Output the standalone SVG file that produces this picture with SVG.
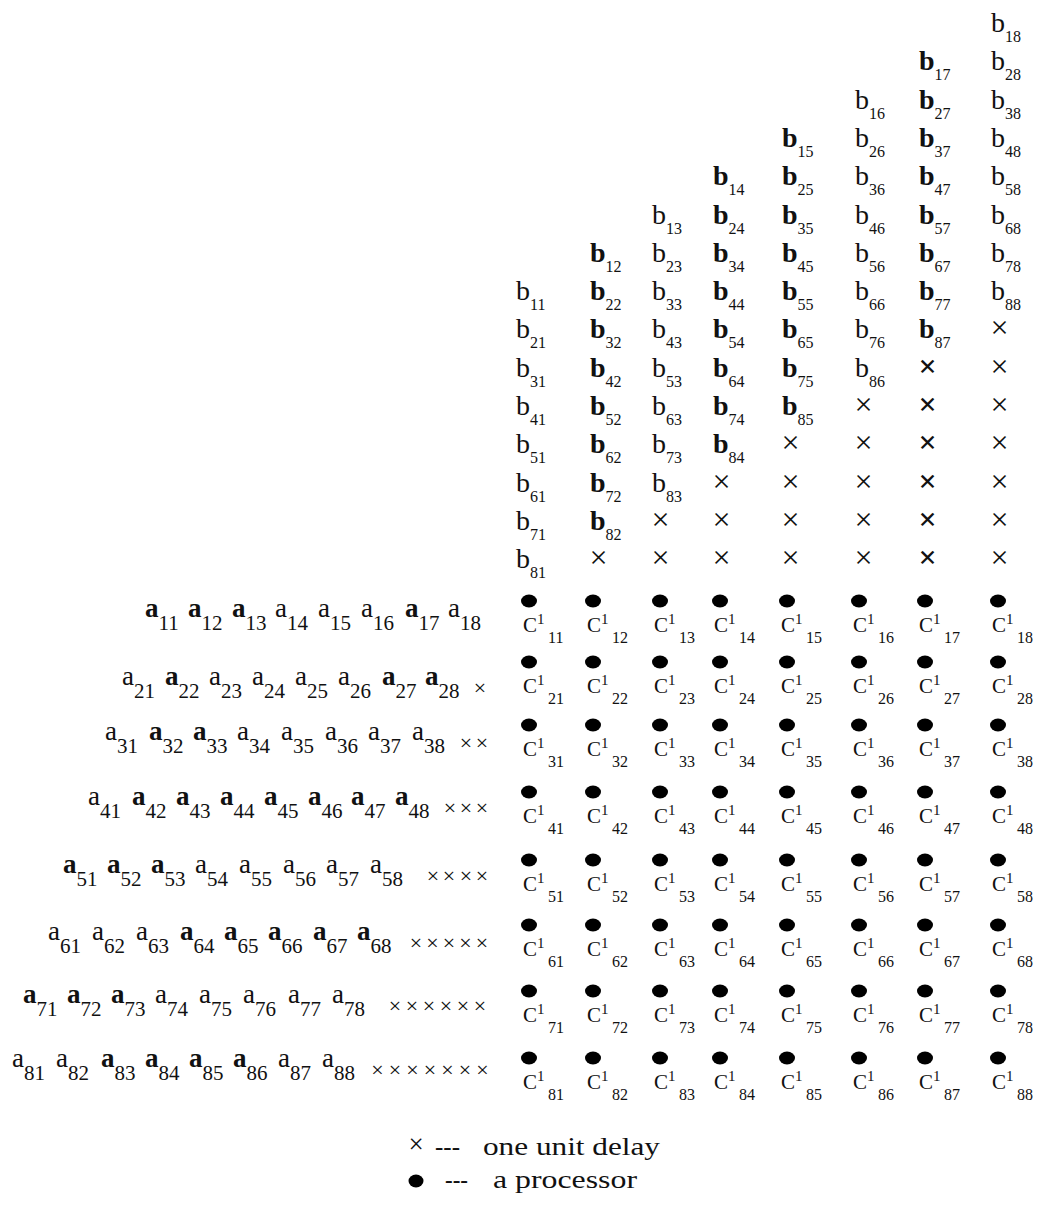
<svg xmlns="http://www.w3.org/2000/svg" width="1040" height="1212" viewBox="0 0 1040 1212">
<style>
text{font-family:"Liberation Serif","Times New Roman",serif;fill:#111}
.b{font-size:28px}
.bs{font-size:16px;font-weight:normal}
.bx{font-size:32px;text-anchor:middle}
.bold{font-weight:bold}
.a{font-size:27px}
.as{font-size:21px;font-weight:normal}
.ax{font-size:22px;text-anchor:middle}
.c{font-size:21px}
.cs{font-size:15px}
.ci{font-size:16px}
.dot{fill:#000}
.lg{font-size:25px}
</style>
<rect width="1040" height="1212" fill="#fff"/>
<g id="connectors"/>
<g id="b-inputs">
<g id="b-col1">
<text class="b" x="516" y="300">b<tspan class="bs" dy="10">11</tspan></text>
<text class="b" x="516" y="338">b<tspan class="bs" dy="10">21</tspan></text>
<text class="b" x="516" y="377">b<tspan class="bs" dy="10">31</tspan></text>
<text class="b" x="516" y="415">b<tspan class="bs" dy="10">41</tspan></text>
<text class="b" x="516" y="453">b<tspan class="bs" dy="10">51</tspan></text>
<text class="b" x="516" y="492">b<tspan class="bs" dy="10">61</tspan></text>
<text class="b" x="516" y="530">b<tspan class="bs" dy="10">71</tspan></text>
<text class="b" x="516" y="568">b<tspan class="bs" dy="10">81</tspan></text>
</g>
<g id="b-col2">
<text class="b bold" x="590" y="262">b<tspan class="bs" dy="10">12</tspan></text>
<text class="b bold" x="590" y="300">b<tspan class="bs" dy="10">22</tspan></text>
<text class="b bold" x="590" y="338">b<tspan class="bs" dy="10">32</tspan></text>
<text class="b bold" x="590" y="377">b<tspan class="bs" dy="10">42</tspan></text>
<text class="b bold" x="590" y="415">b<tspan class="bs" dy="10">52</tspan></text>
<text class="b bold" x="590" y="453">b<tspan class="bs" dy="10">62</tspan></text>
<text class="b bold" x="590" y="492">b<tspan class="bs" dy="10">72</tspan></text>
<text class="b bold" x="590" y="530">b<tspan class="bs" dy="10">82</tspan></text>
<text class="bx" x="598.5" y="568">×</text>
</g>
<g id="b-col3">
<text class="b" x="652" y="224">b<tspan class="bs" dy="10">13</tspan></text>
<text class="b" x="652" y="262">b<tspan class="bs" dy="10">23</tspan></text>
<text class="b" x="652" y="300">b<tspan class="bs" dy="10">33</tspan></text>
<text class="b" x="652" y="338">b<tspan class="bs" dy="10">43</tspan></text>
<text class="b" x="652" y="377">b<tspan class="bs" dy="10">53</tspan></text>
<text class="b" x="652" y="415">b<tspan class="bs" dy="10">63</tspan></text>
<text class="b" x="652" y="453">b<tspan class="bs" dy="10">73</tspan></text>
<text class="b" x="652" y="492">b<tspan class="bs" dy="10">83</tspan></text>
<text class="bx" x="660.5 660.5" y="530 568">××</text>
</g>
<g id="b-col4">
<text class="b bold" x="713" y="185">b<tspan class="bs" dy="10">14</tspan></text>
<text class="b bold" x="713" y="224">b<tspan class="bs" dy="10">24</tspan></text>
<text class="b bold" x="713" y="262">b<tspan class="bs" dy="10">34</tspan></text>
<text class="b bold" x="713" y="300">b<tspan class="bs" dy="10">44</tspan></text>
<text class="b bold" x="713" y="338">b<tspan class="bs" dy="10">54</tspan></text>
<text class="b bold" x="713" y="377">b<tspan class="bs" dy="10">64</tspan></text>
<text class="b bold" x="713" y="415">b<tspan class="bs" dy="10">74</tspan></text>
<text class="b bold" x="713" y="453">b<tspan class="bs" dy="10">84</tspan></text>
<text class="bx" x="721.5 721.5 721.5" y="492 530 568">×××</text>
</g>
<g id="b-col5">
<text class="b bold" x="782" y="147">b<tspan class="bs" dy="10">15</tspan></text>
<text class="b bold" x="782" y="185">b<tspan class="bs" dy="10">25</tspan></text>
<text class="b bold" x="782" y="224">b<tspan class="bs" dy="10">35</tspan></text>
<text class="b bold" x="782" y="262">b<tspan class="bs" dy="10">45</tspan></text>
<text class="b bold" x="782" y="300">b<tspan class="bs" dy="10">55</tspan></text>
<text class="b bold" x="782" y="338">b<tspan class="bs" dy="10">65</tspan></text>
<text class="b bold" x="782" y="377">b<tspan class="bs" dy="10">75</tspan></text>
<text class="b bold" x="782" y="415">b<tspan class="bs" dy="10">85</tspan></text>
<text class="bx" x="790.5 790.5 790.5 790.5" y="453 492 530 568">××××</text>
</g>
<g id="b-col6">
<text class="b" x="855" y="109">b<tspan class="bs" dy="10">16</tspan></text>
<text class="b" x="855" y="147">b<tspan class="bs" dy="10">26</tspan></text>
<text class="b" x="855" y="185">b<tspan class="bs" dy="10">36</tspan></text>
<text class="b" x="855" y="224">b<tspan class="bs" dy="10">46</tspan></text>
<text class="b" x="855" y="262">b<tspan class="bs" dy="10">56</tspan></text>
<text class="b" x="855" y="300">b<tspan class="bs" dy="10">66</tspan></text>
<text class="b" x="855" y="338">b<tspan class="bs" dy="10">76</tspan></text>
<text class="b" x="855" y="377">b<tspan class="bs" dy="10">86</tspan></text>
<text class="bx" x="863.5 863.5 863.5 863.5 863.5" y="415 453 492 530 568">×××××</text>
</g>
<g id="b-col7">
<text class="b bold" x="919" y="70">b<tspan class="bs" dy="10">17</tspan></text>
<text class="b bold" x="919" y="109">b<tspan class="bs" dy="10">27</tspan></text>
<text class="b bold" x="919" y="147">b<tspan class="bs" dy="10">37</tspan></text>
<text class="b bold" x="919" y="185">b<tspan class="bs" dy="10">47</tspan></text>
<text class="b bold" x="919" y="224">b<tspan class="bs" dy="10">57</tspan></text>
<text class="b bold" x="919" y="262">b<tspan class="bs" dy="10">67</tspan></text>
<text class="b bold" x="919" y="300">b<tspan class="bs" dy="10">77</tspan></text>
<text class="b bold" x="919" y="338">b<tspan class="bs" dy="10">87</tspan></text>
<text class="bx bold" x="927.5 927.5 927.5 927.5 927.5 927.5" y="377 415 453 492 530 568">××××××</text>
</g>
<g id="b-col8">
<text class="b" x="991" y="32">b<tspan class="bs" dy="10">18</tspan></text>
<text class="b" x="991" y="70">b<tspan class="bs" dy="10">28</tspan></text>
<text class="b" x="991" y="109">b<tspan class="bs" dy="10">38</tspan></text>
<text class="b" x="991" y="147">b<tspan class="bs" dy="10">48</tspan></text>
<text class="b" x="991" y="185">b<tspan class="bs" dy="10">58</tspan></text>
<text class="b" x="991" y="224">b<tspan class="bs" dy="10">68</tspan></text>
<text class="b" x="991" y="262">b<tspan class="bs" dy="10">78</tspan></text>
<text class="b" x="991" y="300">b<tspan class="bs" dy="10">88</tspan></text>
<text class="bx" x="999.5 999.5 999.5 999.5 999.5 999.5 999.5" y="338 377 415 453 492 530 568">×××××××</text>
</g>
</g>
<g id="a-inputs">
<g id="a-row1">
<text class="a bold" x="145" y="617">a<tspan class="as" dy="13">11</tspan></text>
<text class="a bold" x="188" y="617">a<tspan class="as" dy="13">12</tspan></text>
<text class="a bold" x="232" y="617">a<tspan class="as" dy="13">13</tspan></text>
<text class="a" x="275" y="617">a<tspan class="as" dy="13">14</tspan></text>
<text class="a" x="318" y="617">a<tspan class="as" dy="13">15</tspan></text>
<text class="a" x="361" y="617">a<tspan class="as" dy="13">16</tspan></text>
<text class="a bold" x="405" y="617">a<tspan class="as" dy="13">17</tspan></text>
<text class="a" x="448" y="617">a<tspan class="as" dy="13">18</tspan></text>
</g>
<g id="a-row2">
<text class="a" x="122" y="685">a<tspan class="as" dy="13">21</tspan></text>
<text class="a bold" x="165" y="685">a<tspan class="as" dy="13">22</tspan></text>
<text class="a" x="209" y="685">a<tspan class="as" dy="13">23</tspan></text>
<text class="a" x="252" y="685">a<tspan class="as" dy="13">24</tspan></text>
<text class="a" x="295" y="685">a<tspan class="as" dy="13">25</tspan></text>
<text class="a" x="338" y="685">a<tspan class="as" dy="13">26</tspan></text>
<text class="a bold" x="382" y="685">a<tspan class="as" dy="13">27</tspan></text>
<text class="a bold" x="425" y="685">a<tspan class="as" dy="13">28</tspan></text>
<text class="ax" x="480" y="695">×</text>
</g>
<g id="a-row3">
<text class="a" x="105" y="740">a<tspan class="as" dy="13">31</tspan></text>
<text class="a bold" x="149" y="740">a<tspan class="as" dy="13">32</tspan></text>
<text class="a bold" x="193" y="740">a<tspan class="as" dy="13">33</tspan></text>
<text class="a" x="237" y="740">a<tspan class="as" dy="13">34</tspan></text>
<text class="a" x="281" y="740">a<tspan class="as" dy="13">35</tspan></text>
<text class="a" x="325" y="740">a<tspan class="as" dy="13">36</tspan></text>
<text class="a" x="368" y="740">a<tspan class="as" dy="13">37</tspan></text>
<text class="a" x="412" y="740">a<tspan class="as" dy="13">38</tspan></text>
<text class="ax" x="466 482" y="750">××</text>
</g>
<g id="a-row4">
<text class="a" x="88" y="805">a<tspan class="as" dy="13">41</tspan></text>
<text class="a bold" x="132" y="805">a<tspan class="as" dy="13">42</tspan></text>
<text class="a bold" x="176" y="805">a<tspan class="as" dy="13">43</tspan></text>
<text class="a bold" x="220" y="805">a<tspan class="as" dy="13">44</tspan></text>
<text class="a bold" x="264" y="805">a<tspan class="as" dy="13">45</tspan></text>
<text class="a bold" x="308" y="805">a<tspan class="as" dy="13">46</tspan></text>
<text class="a bold" x="351" y="805">a<tspan class="as" dy="13">47</tspan></text>
<text class="a bold" x="395" y="805">a<tspan class="as" dy="13">48</tspan></text>
<text class="ax" x="450 466 482" y="815">×××</text>
</g>
<g id="a-row5">
<text class="a bold" x="63" y="873">a<tspan class="as" dy="13">51</tspan></text>
<text class="a bold" x="107" y="873">a<tspan class="as" dy="13">52</tspan></text>
<text class="a bold" x="151" y="873">a<tspan class="as" dy="13">53</tspan></text>
<text class="a" x="195" y="873">a<tspan class="as" dy="13">54</tspan></text>
<text class="a" x="239" y="873">a<tspan class="as" dy="13">55</tspan></text>
<text class="a" x="283" y="873">a<tspan class="as" dy="13">56</tspan></text>
<text class="a" x="326" y="873">a<tspan class="as" dy="13">57</tspan></text>
<text class="a" x="370" y="873">a<tspan class="as" dy="13">58</tspan></text>
<text class="ax" x="433 449 466 482" y="883">××××</text>
</g>
<g id="a-row6">
<text class="a" x="48" y="940">a<tspan class="as" dy="13">61</tspan></text>
<text class="a" x="92" y="940">a<tspan class="as" dy="13">62</tspan></text>
<text class="a" x="136" y="940">a<tspan class="as" dy="13">63</tspan></text>
<text class="a bold" x="180" y="940">a<tspan class="as" dy="13">64</tspan></text>
<text class="a bold" x="224" y="940">a<tspan class="as" dy="13">65</tspan></text>
<text class="a bold" x="268" y="940">a<tspan class="as" dy="13">66</tspan></text>
<text class="a bold" x="313" y="940">a<tspan class="as" dy="13">67</tspan></text>
<text class="a bold" x="357" y="940">a<tspan class="as" dy="13">68</tspan></text>
<text class="ax" x="416 432.5 449 465.5 482" y="950">×××××</text>
</g>
<g id="a-row7">
<text class="a bold" x="23" y="1003">a<tspan class="as" dy="13">71</tspan></text>
<text class="a bold" x="67" y="1003">a<tspan class="as" dy="13">72</tspan></text>
<text class="a bold" x="111" y="1003">a<tspan class="as" dy="13">73</tspan></text>
<text class="a" x="155" y="1003">a<tspan class="as" dy="13">74</tspan></text>
<text class="a" x="199" y="1003">a<tspan class="as" dy="13">75</tspan></text>
<text class="a" x="243" y="1003">a<tspan class="as" dy="13">76</tspan></text>
<text class="a" x="288" y="1003">a<tspan class="as" dy="13">77</tspan></text>
<text class="a" x="332" y="1003">a<tspan class="as" dy="13">78</tspan></text>
<text class="ax" x="395 412 429 446 463 480" y="1013">××××××</text>
</g>
<g id="a-row8">
<text class="a" x="12" y="1067">a<tspan class="as" dy="13">81</tspan></text>
<text class="a" x="56" y="1067">a<tspan class="as" dy="13">82</tspan></text>
<text class="a bold" x="101" y="1067">a<tspan class="as" dy="13">83</tspan></text>
<text class="a bold" x="145" y="1067">a<tspan class="as" dy="13">84</tspan></text>
<text class="a bold" x="189" y="1067">a<tspan class="as" dy="13">85</tspan></text>
<text class="a bold" x="233" y="1067">a<tspan class="as" dy="13">86</tspan></text>
<text class="a" x="278" y="1067">a<tspan class="as" dy="13">87</tspan></text>
<text class="a" x="322" y="1067">a<tspan class="as" dy="13">88</tspan></text>
<text class="ax" x="377.5 395 412.5 430 447.5 465 482.5" y="1077">×××××××</text>
</g>
</g>
<g id="processors">
<g id="p11"><ellipse class="dot" cx="529" cy="601" rx="8" ry="6.5"/><text class="c" x="523" y="632">C<tspan class="cs" dy="-8">1</tspan><tspan class="ci" x="548" dy="19">11</tspan></text></g>
<g id="p12"><ellipse class="dot" cx="593" cy="601" rx="8" ry="6.5"/><text class="c" x="587" y="632">C<tspan class="cs" dy="-8">1</tspan><tspan class="ci" x="612" dy="19">12</tspan></text></g>
<g id="p13"><ellipse class="dot" cx="660" cy="601" rx="8" ry="6.5"/><text class="c" x="654" y="632">C<tspan class="cs" dy="-8">1</tspan><tspan class="ci" x="679" dy="19">13</tspan></text></g>
<g id="p14"><ellipse class="dot" cx="720" cy="601" rx="8" ry="6.5"/><text class="c" x="714" y="632">C<tspan class="cs" dy="-8">1</tspan><tspan class="ci" x="739" dy="19">14</tspan></text></g>
<g id="p15"><ellipse class="dot" cx="787" cy="601" rx="8" ry="6.5"/><text class="c" x="781" y="632">C<tspan class="cs" dy="-8">1</tspan><tspan class="ci" x="806" dy="19">15</tspan></text></g>
<g id="p16"><ellipse class="dot" cx="859" cy="601" rx="8" ry="6.5"/><text class="c" x="853" y="632">C<tspan class="cs" dy="-8">1</tspan><tspan class="ci" x="878" dy="19">16</tspan></text></g>
<g id="p17"><ellipse class="dot" cx="925" cy="601" rx="8" ry="6.5"/><text class="c" x="919" y="632">C<tspan class="cs" dy="-8">1</tspan><tspan class="ci" x="944" dy="19">17</tspan></text></g>
<g id="p18"><ellipse class="dot" cx="998" cy="601" rx="8" ry="6.5"/><text class="c" x="992" y="632">C<tspan class="cs" dy="-8">1</tspan><tspan class="ci" x="1017" dy="19">18</tspan></text></g>
<g id="p21"><ellipse class="dot" cx="529" cy="662" rx="8" ry="6.5"/><text class="c" x="523" y="693">C<tspan class="cs" dy="-8">1</tspan><tspan class="ci" x="548" dy="19">21</tspan></text></g>
<g id="p22"><ellipse class="dot" cx="593" cy="662" rx="8" ry="6.5"/><text class="c" x="587" y="693">C<tspan class="cs" dy="-8">1</tspan><tspan class="ci" x="612" dy="19">22</tspan></text></g>
<g id="p23"><ellipse class="dot" cx="660" cy="662" rx="8" ry="6.5"/><text class="c" x="654" y="693">C<tspan class="cs" dy="-8">1</tspan><tspan class="ci" x="679" dy="19">23</tspan></text></g>
<g id="p24"><ellipse class="dot" cx="720" cy="662" rx="8" ry="6.5"/><text class="c" x="714" y="693">C<tspan class="cs" dy="-8">1</tspan><tspan class="ci" x="739" dy="19">24</tspan></text></g>
<g id="p25"><ellipse class="dot" cx="787" cy="662" rx="8" ry="6.5"/><text class="c" x="781" y="693">C<tspan class="cs" dy="-8">1</tspan><tspan class="ci" x="806" dy="19">25</tspan></text></g>
<g id="p26"><ellipse class="dot" cx="859" cy="662" rx="8" ry="6.5"/><text class="c" x="853" y="693">C<tspan class="cs" dy="-8">1</tspan><tspan class="ci" x="878" dy="19">26</tspan></text></g>
<g id="p27"><ellipse class="dot" cx="925" cy="662" rx="8" ry="6.5"/><text class="c" x="919" y="693">C<tspan class="cs" dy="-8">1</tspan><tspan class="ci" x="944" dy="19">27</tspan></text></g>
<g id="p28"><ellipse class="dot" cx="998" cy="662" rx="8" ry="6.5"/><text class="c" x="992" y="693">C<tspan class="cs" dy="-8">1</tspan><tspan class="ci" x="1017" dy="19">28</tspan></text></g>
<g id="p31"><ellipse class="dot" cx="529" cy="725" rx="8" ry="6.5"/><text class="c" x="523" y="756">C<tspan class="cs" dy="-8">1</tspan><tspan class="ci" x="548" dy="19">31</tspan></text></g>
<g id="p32"><ellipse class="dot" cx="593" cy="725" rx="8" ry="6.5"/><text class="c" x="587" y="756">C<tspan class="cs" dy="-8">1</tspan><tspan class="ci" x="612" dy="19">32</tspan></text></g>
<g id="p33"><ellipse class="dot" cx="660" cy="725" rx="8" ry="6.5"/><text class="c" x="654" y="756">C<tspan class="cs" dy="-8">1</tspan><tspan class="ci" x="679" dy="19">33</tspan></text></g>
<g id="p34"><ellipse class="dot" cx="720" cy="725" rx="8" ry="6.5"/><text class="c" x="714" y="756">C<tspan class="cs" dy="-8">1</tspan><tspan class="ci" x="739" dy="19">34</tspan></text></g>
<g id="p35"><ellipse class="dot" cx="787" cy="725" rx="8" ry="6.5"/><text class="c" x="781" y="756">C<tspan class="cs" dy="-8">1</tspan><tspan class="ci" x="806" dy="19">35</tspan></text></g>
<g id="p36"><ellipse class="dot" cx="859" cy="725" rx="8" ry="6.5"/><text class="c" x="853" y="756">C<tspan class="cs" dy="-8">1</tspan><tspan class="ci" x="878" dy="19">36</tspan></text></g>
<g id="p37"><ellipse class="dot" cx="925" cy="725" rx="8" ry="6.5"/><text class="c" x="919" y="756">C<tspan class="cs" dy="-8">1</tspan><tspan class="ci" x="944" dy="19">37</tspan></text></g>
<g id="p38"><ellipse class="dot" cx="998" cy="725" rx="8" ry="6.5"/><text class="c" x="992" y="756">C<tspan class="cs" dy="-8">1</tspan><tspan class="ci" x="1017" dy="19">38</tspan></text></g>
<g id="p41"><ellipse class="dot" cx="529" cy="792" rx="8" ry="6.5"/><text class="c" x="523" y="823">C<tspan class="cs" dy="-8">1</tspan><tspan class="ci" x="548" dy="19">41</tspan></text></g>
<g id="p42"><ellipse class="dot" cx="593" cy="792" rx="8" ry="6.5"/><text class="c" x="587" y="823">C<tspan class="cs" dy="-8">1</tspan><tspan class="ci" x="612" dy="19">42</tspan></text></g>
<g id="p43"><ellipse class="dot" cx="660" cy="792" rx="8" ry="6.5"/><text class="c" x="654" y="823">C<tspan class="cs" dy="-8">1</tspan><tspan class="ci" x="679" dy="19">43</tspan></text></g>
<g id="p44"><ellipse class="dot" cx="720" cy="792" rx="8" ry="6.5"/><text class="c" x="714" y="823">C<tspan class="cs" dy="-8">1</tspan><tspan class="ci" x="739" dy="19">44</tspan></text></g>
<g id="p45"><ellipse class="dot" cx="787" cy="792" rx="8" ry="6.5"/><text class="c" x="781" y="823">C<tspan class="cs" dy="-8">1</tspan><tspan class="ci" x="806" dy="19">45</tspan></text></g>
<g id="p46"><ellipse class="dot" cx="859" cy="792" rx="8" ry="6.5"/><text class="c" x="853" y="823">C<tspan class="cs" dy="-8">1</tspan><tspan class="ci" x="878" dy="19">46</tspan></text></g>
<g id="p47"><ellipse class="dot" cx="925" cy="792" rx="8" ry="6.5"/><text class="c" x="919" y="823">C<tspan class="cs" dy="-8">1</tspan><tspan class="ci" x="944" dy="19">47</tspan></text></g>
<g id="p48"><ellipse class="dot" cx="998" cy="792" rx="8" ry="6.5"/><text class="c" x="992" y="823">C<tspan class="cs" dy="-8">1</tspan><tspan class="ci" x="1017" dy="19">48</tspan></text></g>
<g id="p51"><ellipse class="dot" cx="529" cy="860" rx="8" ry="6.5"/><text class="c" x="523" y="891">C<tspan class="cs" dy="-8">1</tspan><tspan class="ci" x="548" dy="19">51</tspan></text></g>
<g id="p52"><ellipse class="dot" cx="593" cy="860" rx="8" ry="6.5"/><text class="c" x="587" y="891">C<tspan class="cs" dy="-8">1</tspan><tspan class="ci" x="612" dy="19">52</tspan></text></g>
<g id="p53"><ellipse class="dot" cx="660" cy="860" rx="8" ry="6.5"/><text class="c" x="654" y="891">C<tspan class="cs" dy="-8">1</tspan><tspan class="ci" x="679" dy="19">53</tspan></text></g>
<g id="p54"><ellipse class="dot" cx="720" cy="860" rx="8" ry="6.5"/><text class="c" x="714" y="891">C<tspan class="cs" dy="-8">1</tspan><tspan class="ci" x="739" dy="19">54</tspan></text></g>
<g id="p55"><ellipse class="dot" cx="787" cy="860" rx="8" ry="6.5"/><text class="c" x="781" y="891">C<tspan class="cs" dy="-8">1</tspan><tspan class="ci" x="806" dy="19">55</tspan></text></g>
<g id="p56"><ellipse class="dot" cx="859" cy="860" rx="8" ry="6.5"/><text class="c" x="853" y="891">C<tspan class="cs" dy="-8">1</tspan><tspan class="ci" x="878" dy="19">56</tspan></text></g>
<g id="p57"><ellipse class="dot" cx="925" cy="860" rx="8" ry="6.5"/><text class="c" x="919" y="891">C<tspan class="cs" dy="-8">1</tspan><tspan class="ci" x="944" dy="19">57</tspan></text></g>
<g id="p58"><ellipse class="dot" cx="998" cy="860" rx="8" ry="6.5"/><text class="c" x="992" y="891">C<tspan class="cs" dy="-8">1</tspan><tspan class="ci" x="1017" dy="19">58</tspan></text></g>
<g id="p61"><ellipse class="dot" cx="529" cy="925" rx="8" ry="6.5"/><text class="c" x="523" y="956">C<tspan class="cs" dy="-8">1</tspan><tspan class="ci" x="548" dy="19">61</tspan></text></g>
<g id="p62"><ellipse class="dot" cx="593" cy="925" rx="8" ry="6.5"/><text class="c" x="587" y="956">C<tspan class="cs" dy="-8">1</tspan><tspan class="ci" x="612" dy="19">62</tspan></text></g>
<g id="p63"><ellipse class="dot" cx="660" cy="925" rx="8" ry="6.5"/><text class="c" x="654" y="956">C<tspan class="cs" dy="-8">1</tspan><tspan class="ci" x="679" dy="19">63</tspan></text></g>
<g id="p64"><ellipse class="dot" cx="720" cy="925" rx="8" ry="6.5"/><text class="c" x="714" y="956">C<tspan class="cs" dy="-8">1</tspan><tspan class="ci" x="739" dy="19">64</tspan></text></g>
<g id="p65"><ellipse class="dot" cx="787" cy="925" rx="8" ry="6.5"/><text class="c" x="781" y="956">C<tspan class="cs" dy="-8">1</tspan><tspan class="ci" x="806" dy="19">65</tspan></text></g>
<g id="p66"><ellipse class="dot" cx="859" cy="925" rx="8" ry="6.5"/><text class="c" x="853" y="956">C<tspan class="cs" dy="-8">1</tspan><tspan class="ci" x="878" dy="19">66</tspan></text></g>
<g id="p67"><ellipse class="dot" cx="925" cy="925" rx="8" ry="6.5"/><text class="c" x="919" y="956">C<tspan class="cs" dy="-8">1</tspan><tspan class="ci" x="944" dy="19">67</tspan></text></g>
<g id="p68"><ellipse class="dot" cx="998" cy="925" rx="8" ry="6.5"/><text class="c" x="992" y="956">C<tspan class="cs" dy="-8">1</tspan><tspan class="ci" x="1017" dy="19">68</tspan></text></g>
<g id="p71"><ellipse class="dot" cx="529" cy="991" rx="8" ry="6.5"/><text class="c" x="523" y="1022">C<tspan class="cs" dy="-8">1</tspan><tspan class="ci" x="548" dy="19">71</tspan></text></g>
<g id="p72"><ellipse class="dot" cx="593" cy="991" rx="8" ry="6.5"/><text class="c" x="587" y="1022">C<tspan class="cs" dy="-8">1</tspan><tspan class="ci" x="612" dy="19">72</tspan></text></g>
<g id="p73"><ellipse class="dot" cx="660" cy="991" rx="8" ry="6.5"/><text class="c" x="654" y="1022">C<tspan class="cs" dy="-8">1</tspan><tspan class="ci" x="679" dy="19">73</tspan></text></g>
<g id="p74"><ellipse class="dot" cx="720" cy="991" rx="8" ry="6.5"/><text class="c" x="714" y="1022">C<tspan class="cs" dy="-8">1</tspan><tspan class="ci" x="739" dy="19">74</tspan></text></g>
<g id="p75"><ellipse class="dot" cx="787" cy="991" rx="8" ry="6.5"/><text class="c" x="781" y="1022">C<tspan class="cs" dy="-8">1</tspan><tspan class="ci" x="806" dy="19">75</tspan></text></g>
<g id="p76"><ellipse class="dot" cx="859" cy="991" rx="8" ry="6.5"/><text class="c" x="853" y="1022">C<tspan class="cs" dy="-8">1</tspan><tspan class="ci" x="878" dy="19">76</tspan></text></g>
<g id="p77"><ellipse class="dot" cx="925" cy="991" rx="8" ry="6.5"/><text class="c" x="919" y="1022">C<tspan class="cs" dy="-8">1</tspan><tspan class="ci" x="944" dy="19">77</tspan></text></g>
<g id="p78"><ellipse class="dot" cx="998" cy="991" rx="8" ry="6.5"/><text class="c" x="992" y="1022">C<tspan class="cs" dy="-8">1</tspan><tspan class="ci" x="1017" dy="19">78</tspan></text></g>
<g id="p81"><ellipse class="dot" cx="529" cy="1058" rx="8" ry="6.5"/><text class="c" x="523" y="1089">C<tspan class="cs" dy="-8">1</tspan><tspan class="ci" x="548" dy="19">81</tspan></text></g>
<g id="p82"><ellipse class="dot" cx="593" cy="1058" rx="8" ry="6.5"/><text class="c" x="587" y="1089">C<tspan class="cs" dy="-8">1</tspan><tspan class="ci" x="612" dy="19">82</tspan></text></g>
<g id="p83"><ellipse class="dot" cx="660" cy="1058" rx="8" ry="6.5"/><text class="c" x="654" y="1089">C<tspan class="cs" dy="-8">1</tspan><tspan class="ci" x="679" dy="19">83</tspan></text></g>
<g id="p84"><ellipse class="dot" cx="720" cy="1058" rx="8" ry="6.5"/><text class="c" x="714" y="1089">C<tspan class="cs" dy="-8">1</tspan><tspan class="ci" x="739" dy="19">84</tspan></text></g>
<g id="p85"><ellipse class="dot" cx="787" cy="1058" rx="8" ry="6.5"/><text class="c" x="781" y="1089">C<tspan class="cs" dy="-8">1</tspan><tspan class="ci" x="806" dy="19">85</tspan></text></g>
<g id="p86"><ellipse class="dot" cx="859" cy="1058" rx="8" ry="6.5"/><text class="c" x="853" y="1089">C<tspan class="cs" dy="-8">1</tspan><tspan class="ci" x="878" dy="19">86</tspan></text></g>
<g id="p87"><ellipse class="dot" cx="925" cy="1058" rx="8" ry="6.5"/><text class="c" x="919" y="1089">C<tspan class="cs" dy="-8">1</tspan><tspan class="ci" x="944" dy="19">87</tspan></text></g>
<g id="p88"><ellipse class="dot" cx="998" cy="1058" rx="8" ry="6.5"/><text class="c" x="992" y="1089">C<tspan class="cs" dy="-8">1</tspan><tspan class="ci" x="1017" dy="19">88</tspan></text></g>
</g>
<g id="legend">
<text x="416" y="1153" style="font-size:27px;text-anchor:middle">×</text>
<text class="lg" x="435" y="1155" textLength="25" lengthAdjust="spacingAndGlyphs">---</text>
<text class="lg" x="483" y="1155" textLength="177" lengthAdjust="spacingAndGlyphs">one unit delay</text>
<ellipse class="dot" cx="416" cy="1181" rx="7.5" ry="6.5"/>
<text class="lg" x="445" y="1188" textLength="23" lengthAdjust="spacingAndGlyphs">---</text>
<text class="lg" x="493" y="1188" textLength="144" lengthAdjust="spacingAndGlyphs">a processor</text>
</g>
</svg>
